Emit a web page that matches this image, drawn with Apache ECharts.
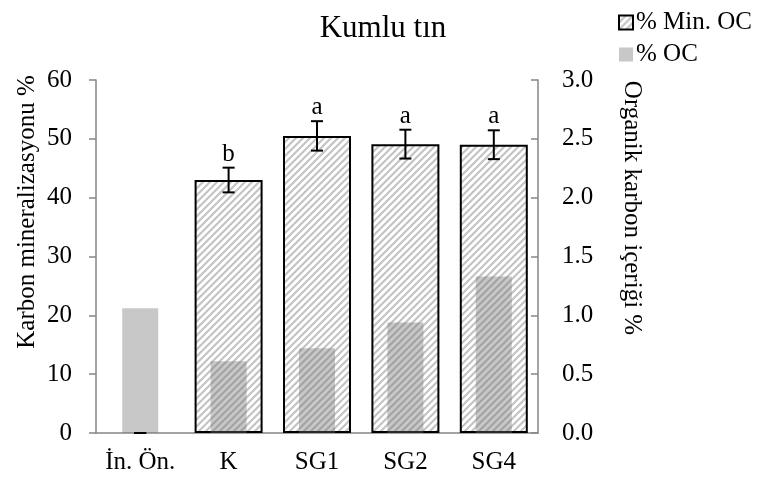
<!DOCTYPE html>
<html>
<head>
<meta charset="utf-8">
<script src="https://cdn.jsdelivr.net/npm/echarts@6/dist/echarts.min.js"></script>
<style>html,body{margin:0;padding:0;background:#fff}#c{width:760px;height:479px}</style>
</head>
<body>
<div id="c"></div>
<script>
var categories = ['İn. Ön.', 'K', 'SG1', 'SG2', 'SG4'];
var minOC = [0, 43.0, 50.5, 49.1, 49.0];
var minOCErr = [0, 2.1, 2.5, 2.45, 2.45];
var letters = ['', 'b', 'a', 'a', 'a'];
var oc = [1.06, 0.61, 0.72, 0.94, 1.33];
var leftTicks = [0, 10, 20, 30, 40, 50, 60];
var rightTicks = ['0.0', '0.5', '1.0', '1.5', '2.0', '2.5', '3.0'];

var FONT = '"Liberation Serif", "Times New Roman", serif';

// hatch pattern
var pc = document.createElement('canvas');
pc.width = 7; pc.height = 7;
var g = pc.getContext('2d');
g.fillStyle = '#ffffff'; g.fillRect(0, 0, 7, 7);
g.strokeStyle = '#c4c4c4'; g.lineWidth = 2.2;
g.beginPath();
g.moveTo(-1, 8); g.lineTo(8, -1);
g.moveTo(-8, 8); g.lineTo(8, -8);
g.moveTo(-1, 15); g.lineTo(15, -1);
g.stroke();

var chart = echarts.init(document.getElementById('c'), null, {renderer: 'canvas'});
var axisLineStyle = {color: '#868686', width: 1.5};
var option = {
  animation: false,
  title: {
    text: 'Kumlu tın', left: 378, top: 8, textAlign: 'center',
    textStyle: {fontFamily: FONT, fontSize: 31, fontWeight: 'normal', color: '#000'}
  },
  legend: {
    orient: 'vertical', left: 613, top: 5, itemGap: 7,
    itemWidth: 14, itemHeight: 14, icon: 'rect',
    data: ['% Min. OC', '% OC'],
    textStyle: {fontFamily: FONT, fontSize: 25, color: '#000', padding: [0, 0, 0, -2]}
  },
  grid: {left: 96, right: 222, top: 80, bottom: 46},
  xAxis: [{
    type: 'category', data: categories,
    axisLine: {lineStyle: axisLineStyle}, axisTick: {show: false},
    axisLabel: {fontFamily: FONT, fontSize: 25, color: '#000', margin: 17, interval: 0}
  }, {
    type: 'category', data: categories, show: false
  }],
  yAxis: [{
    type: 'value', min: 0, max: 60, interval: 10, position: 'left',
    axisLine: {show: true, lineStyle: axisLineStyle},
    axisTick: {show: true, length: 7, lineStyle: axisLineStyle},
    splitLine: {show: false},
    axisLabel: {fontFamily: FONT, fontSize: 25, color: '#000', margin: 24,
      formatter: function (v) { return leftTicks.indexOf(v) >= 0 ? String(v) : ''; }}
  }, {
    type: 'value', min: 0, max: 3, interval: 0.5, position: 'right',
    axisLine: {show: true, lineStyle: axisLineStyle},
    axisTick: {show: true, inside: true, length: 7, lineStyle: axisLineStyle},
    splitLine: {show: false},
    axisLabel: {fontFamily: FONT, fontSize: 25, color: '#000', margin: 24,
      formatter: function (v) { return rightTicks[Math.round(v * 2)]; }}
  }],
  series: [{
    name: '% Min. OC', type: 'bar', xAxisIndex: 0, yAxisIndex: 0,
    data: minOC.map(function (v) { return v === 0 ? {value: v, itemStyle: {borderWidth: 0}} : v; }),
    barWidth: 68,
    itemStyle: {color: {image: pc, repeat: 'repeat'}, borderColor: '#000', borderWidth: 2}
  }, {
    name: '% OC', type: 'bar', xAxisIndex: 1, yAxisIndex: 1,
    data: oc, barWidth: 36, z: 3,
    itemStyle: {color: 'rgba(112,112,112,0.385)'}
  }, {
    type: 'custom', xAxisIndex: 0, yAxisIndex: 0, z: 5,
    data: minOC.map(function (v, i) { return [i, v, minOCErr[i]]; }),
    renderItem: function (params, api) {
      var i = api.value(0), v = api.value(1), e = api.value(2);
      var t = api.coord([i, v + e]), b = api.coord([i, v - e]);
      var st = {stroke: '#000', lineWidth: 2};
      var ch = [
        {type: 'line', shape: {x1: t[0], y1: t[1], x2: b[0], y2: b[1]}, style: st},
        {type: 'line', shape: {x1: t[0] - 6, y1: t[1], x2: t[0] + 6, y2: t[1]}, style: st},
        {type: 'line', shape: {x1: b[0] - 6, y1: b[1], x2: b[0] + 6, y2: b[1]}, style: st}
      ];
      if (letters[params.dataIndex]) {
        ch.push({type: 'text', x: t[0], y: t[1] - 1,
          style: {text: letters[params.dataIndex], align: 'center', verticalAlign: 'bottom',
            font: '25px ' + FONT, fill: '#000'}});
      }
      return {type: 'group', children: ch};
    }
  }],
  graphic: [{
    type: 'text', x: 27, y: 212, rotation: Math.PI / 2,
    style: {text: 'Karbon mineralizasyonu %', align: 'center', verticalAlign: 'middle',
      font: '25px ' + FONT, fill: '#000'}
  }, {
    type: 'text', x: 632, y: 208, rotation: -Math.PI / 2,
    style: {text: 'Organik karbon içeriği %', align: 'center', verticalAlign: 'middle',
      font: '25px ' + FONT, fill: '#000'}
  }]
};
chart.setOption(option);
</script>
</body>
</html>
